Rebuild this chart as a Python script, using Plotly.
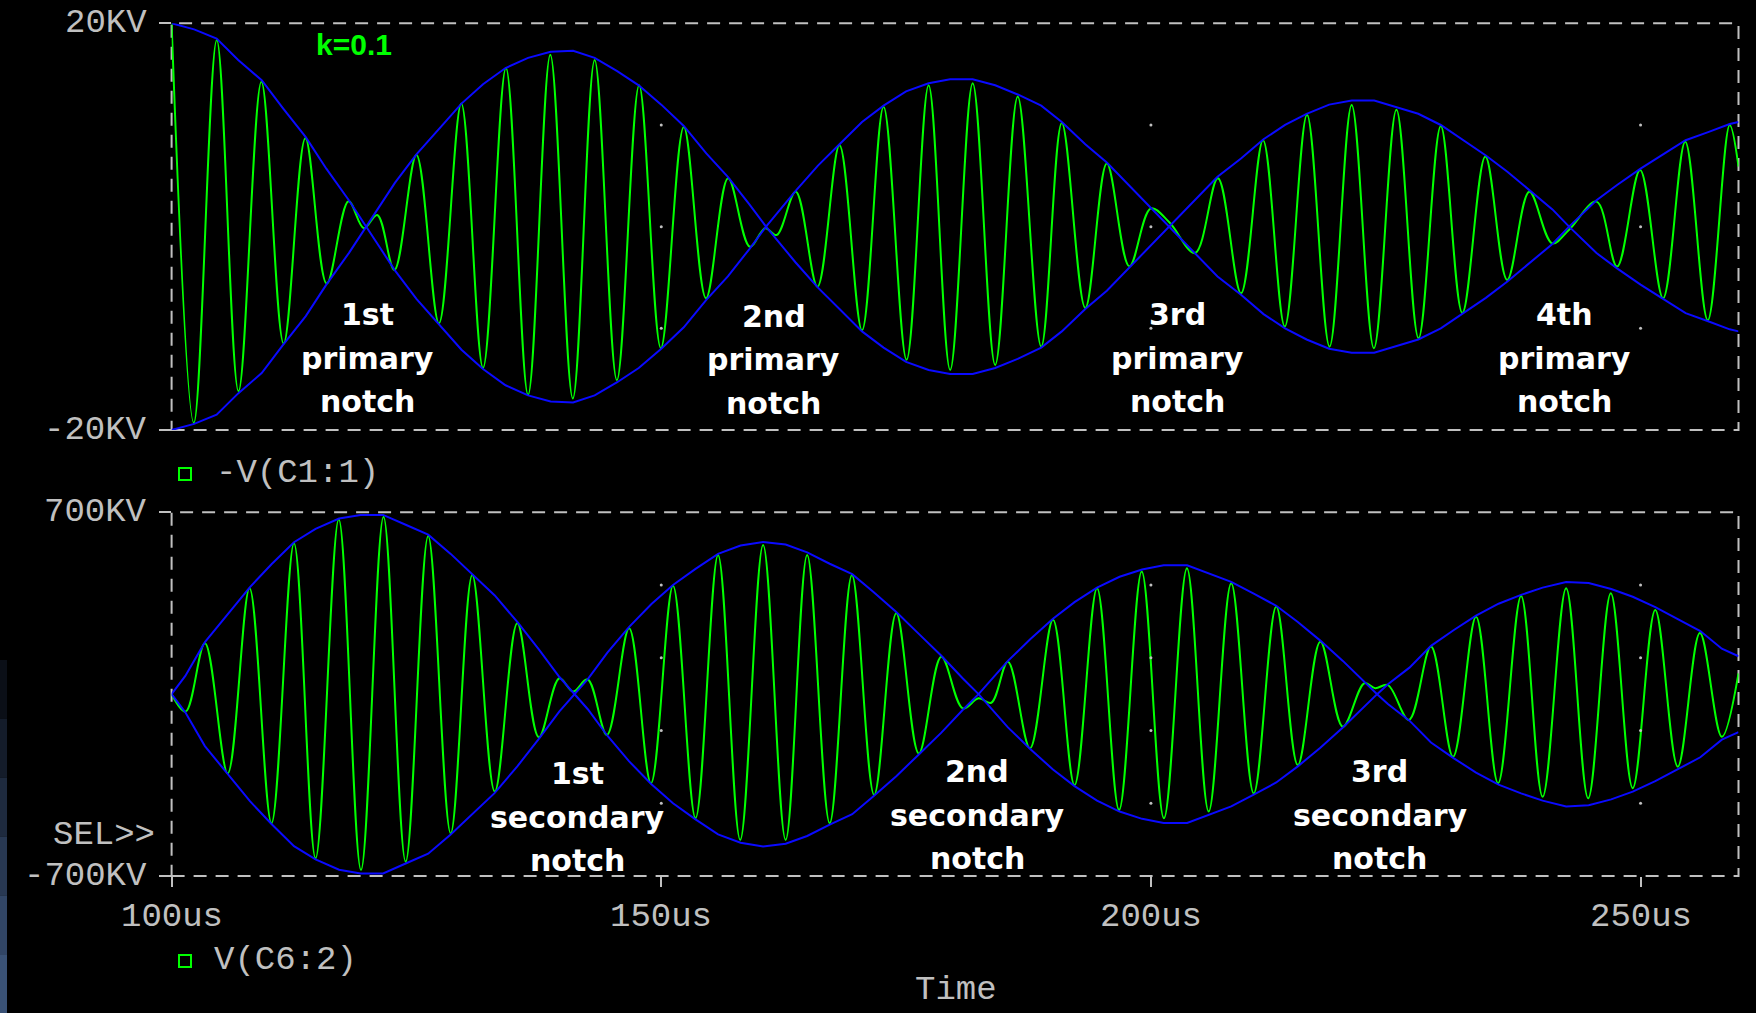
import plotly.graph_objects as go

# ---------------- data ----------------
# top panel: -V(C1:1) [kV], extrema of the green waveform
top_t = [100.0, 102.27, 104.61, 106.83, 109.17, 111.44, 113.66, 115.84, 118.07, 119.63,
         121.0, 122.75, 125.0, 127.3, 129.58, 131.8, 134.14, 136.4, 138.67, 140.97,
         143.2, 145.47, 147.74, 149.96, 152.3, 154.57, 156.83, 159.05, 160.6, 161.78,
         163.73, 165.95, 168.2, 170.5, 172.7, 175.05, 177.3, 179.5, 181.8, 184.1,
         186.4, 188.8, 190.9, 193.3, 195.5, 197.8, 200.0, 201.9, 204.5, 206.84,
         209.2, 211.45, 213.67, 215.94, 218.24, 220.5, 222.77, 225.07, 227.33, 229.6,
         231.8, 234.15, 236.38, 238.64, 240.98, 242.7, 245.5, 247.6, 249.95, 252.3,
         254.56, 256.86, 259.1, 260.0]
top_v = [20.0, -19.3, 18.35, -16.2, 14.25, -11.5, 8.7, -5.6, 2.5, -0.15,
         1.15, -4.26, 7.05, -9.5, 12.1, -13.9, 15.6, -16.55, 16.9, -16.9,
         16.4, -15.1, 13.9, -11.96, 9.8, -7.04, 4.76, -1.97, -0.16, -0.82,
         3.44, -5.9, 8.0, -10.2, 11.8, -13.1, 13.9, -14.1, 14.1, -13.6,
         12.8, -11.8, 10.2, -8.0, 6.2, -3.9, 1.8, 0.4, -2.6, 4.76,
         -6.55, 8.5, -9.83, 11.0, -11.8, 11.97, -11.96, 11.5, -10.97, 9.9,
         -8.5, 6.9, -5.24, 3.44, -1.64, -0.3, 2.46, -3.93, 5.58, -7.04,
         8.36, -9.2, 10.0, 5.9]

# top panel envelope (blue), one branch; the other branch is its mirror
env_top_t = [100.0, 102.3, 104.6, 106.8, 109.2, 111.4, 113.7, 115.8, 118.1, 119.9,
             122.8, 125.0, 127.3, 129.6, 131.8, 134.1, 136.4, 138.7, 141.0, 143.2,
             145.5, 147.7, 150.0, 152.3, 154.6, 156.8, 159.0, 160.7,
             163.7, 166.0, 168.2, 170.5, 172.7, 175.0, 177.3, 179.5, 181.8, 184.1,
             186.4, 188.8, 190.9, 193.3, 195.5, 197.8, 200.0, 201.9,
             204.5, 206.8, 209.2, 211.5, 213.7, 215.9, 218.2, 220.5, 222.8, 225.1,
             227.3, 229.6, 231.8, 234.2, 236.4, 238.6, 241.0, 242.7,
             245.5, 247.6, 250.0, 252.3, 254.6, 256.9, 259.1, 260.0]
env_top_v = [20.0, 19.4, 18.5, 16.4, 14.4, 11.6, 8.8, 5.7, 2.6, 0.0,
             -4.3, -7.1, -9.6, -12.1, -14.0, -15.6, -16.6, -17.2, -17.3, -16.6,
             -15.3, -13.9, -12.0, -9.9, -7.2, -4.9, -2.2, 0.0,
             3.5, 6.0, 8.1, 10.3, 11.9, 13.3, 14.1, 14.5, 14.5, 13.9,
             13.0, 11.9, 10.3, 8.1, 6.3, 4.0, 1.8, 0.0,
             -2.7, -4.9, -6.7, -8.6, -10.0, -11.1, -12.0, -12.4, -12.4, -11.7,
             -11.1, -10.0, -8.6, -7.0, -5.4, -3.6, -1.7, 0.0,
             2.6, 4.1, 5.7, 7.1, 8.5, 9.3, 10.1, 10.3]

# bottom panel: V(C6:2) [kV], extrema of the green waveform
bot_t = [100.0, 101.43, 103.4, 105.73, 107.96, 110.2, 112.5, 114.7, 117.07, 119.34,
         121.64, 123.9, 126.2, 128.5, 130.7, 133.0, 135.3, 137.5, 139.6, 141.0,
         142.47, 144.45, 146.72, 148.95, 151.2, 153.5, 155.8, 158.06, 160.4, 162.7,
         164.9, 167.2, 169.47, 171.74, 174.0, 176.3, 178.6, 180.8, 182.4, 183.7,
         185.4, 187.65, 190.0, 192.2, 194.5, 196.75, 199.06, 201.33, 203.68, 205.9,
         208.2, 210.5, 212.8, 215.0, 217.3, 219.6, 221.8, 222.9, 224.2, 226.35,
         228.6, 230.85, 233.2, 235.45, 237.8, 240.0, 242.4, 244.65, 246.96, 249.2,
         251.5, 253.8, 256.06, 258.3, 260.0]
bot_v = [0, -67, 196, -305, 408, -497, 581, -632, 673, -677,
         683, -645, 609, -536, 459, -375, 273, -166, 61, 10,
         57, -157, 254, -343, 417, -478, 536, -561, 574, -561,
         536, -497, 459, -388, 311, -228, 144, -55, -16, -33,
         125, -208, 286, -350, 408, -446, 472, -478, 485, -452,
         427, -382, 337, -273, 202, -125, 42, 23, 35, -99,
         183, -241, 298, -343, 378, -395, 408, -401, 388, -362,
         324, -279, 235, -164, 80]

# bottom panel envelope (blue), one branch
env_bot_t = [100.0, 101.4, 103.4, 105.7, 108.0, 110.2, 112.5, 114.7, 117.1, 119.3,
             121.6, 123.9, 126.2, 128.5, 130.7, 133.0, 135.3, 137.5, 139.6, 141.1,
             142.5, 144.5, 146.7, 149.0, 151.2, 153.5, 155.8, 158.1, 160.4, 162.7,
             164.9, 167.2, 169.5, 171.7, 174.0, 176.3, 178.6, 180.8, 182.4,
             185.4, 187.7, 190.0, 192.2, 194.5, 196.8, 199.1, 201.3, 203.7, 205.9,
             208.2, 210.5, 212.8, 215.0, 217.3, 219.6, 221.8, 223.1,
             224.2, 226.4, 228.6, 230.9, 233.2, 235.5, 237.8, 240.0, 242.4, 244.7,
             247.0, 249.2, 251.5, 253.8, 256.1, 258.3, 260.0]
env_bot_v = [0, 70, 200, 308, 412, 500, 585, 636, 676, 690,
             690, 652, 614, 540, 463, 380, 278, 172, 66, 0,
             -58, -160, -258, -347, -420, -482, -540, -572, -586, -576,
             -546, -502, -462, -392, -316, -232, -148, -60, 0,
             128, 212, 290, 354, 410, 452, 480, 496, 496, 465,
             432, 387, 340, 278, 206, 128, 46, 0,
             -38, -102, -186, -246, -302, -348, -382, -410, -432, -428,
             -405, -375, -335, -290, -243, -175, -146]

# axis / tick data
x_range = [100, 260]
x_ticks = [100, 150, 200, 250]
x_tick_text = ["100us", "150us", "200us", "250us"]
top_range = [-20, 20]
top_ticks = [20, -20]
top_tick_text = ["20KV", "-20KV"]
bot_range = [-700, 700]
bot_ticks = [700, -700]
bot_tick_text = ["700KV", "-700KV"]
grid_x = [150, 200, 250]
top_grid_y = [-10, 0, 10]
bot_grid_y = [-420, -140, 140, 420]

top_trace_name = "-V(C1:1)"
bot_trace_name = "V(C6:2)"
k_label = "k=0.1"
primary_labels = [["1st", "primary", "notch"], ["2nd", "primary", "notch"],
                  ["3rd", "primary", "notch"], ["4th", "primary", "notch"]]
secondary_labels = [["1st", "secondary", "notch"], ["2nd", "secondary", "notch"],
                    ["3rd", "secondary", "notch"]]

# ---------------- styling / layout constants (pixels) ----------------
W, H = 1756, 1013
PX_L, PX_R = 171.6, 1738.5
TOP_Y0, TOP_Y1 = 23.3, 430.0
BOT_Y0, BOT_Y1 = 512.3, 876.0
GREEN = "#00ff00"
BLUE = "#0a0aff"
GRAY = "#c0c0c0"
MONO = "Liberation Mono"
MONO_SIZE = 34


def fx(px):
    return px / W


def fy(py):
    return 1 - py / H


fig = go.Figure()

# green waveforms
fig.add_trace(go.Scatter(x=top_t, y=top_v, mode="lines", line=dict(color=GREEN, width=2, shape="spline", smoothing=1.0),
                         xaxis="x", yaxis="y", hoverinfo="skip"))
fig.add_trace(go.Scatter(x=bot_t, y=bot_v, mode="lines", line=dict(color=GREEN, width=2, shape="spline", smoothing=1.0),
                         xaxis="x2", yaxis="y2", hoverinfo="skip"))

# blue envelopes (both branches)
for sign in (1, -1):
    fig.add_trace(go.Scatter(x=env_top_t, y=[sign * v for v in env_top_v], mode="lines",
                             line=dict(color=BLUE, width=2), xaxis="x", yaxis="y", hoverinfo="skip"))
    fig.add_trace(go.Scatter(x=env_bot_t, y=[sign * v for v in env_bot_v], mode="lines",
                             line=dict(color=BLUE, width=2), xaxis="x2", yaxis="y2", hoverinfo="skip"))

# grid dots
fig.add_trace(go.Scatter(x=[gx for gx in grid_x for _ in top_grid_y], y=[gy for _ in grid_x for gy in top_grid_y],
                         mode="markers", marker=dict(color=GRAY, size=3), xaxis="x", yaxis="y", hoverinfo="skip"))
fig.add_trace(go.Scatter(x=[gx for gx in grid_x for _ in bot_grid_y], y=[gy for _ in grid_x for gy in bot_grid_y],
                         mode="markers", marker=dict(color=GRAY, size=3), xaxis="x2", yaxis="y2", hoverinfo="skip"))

axis_common = dict(showgrid=False, zeroline=False, showline=False, fixedrange=True)

fig.update_layout(
    width=W, height=H,
    margin=dict(l=0, r=0, t=0, b=0, pad=0),
    paper_bgcolor="black", plot_bgcolor="black",
    showlegend=False,
    xaxis=dict(domain=[fx(PX_L), fx(PX_R)], range=x_range, anchor="y", showticklabels=False, ticks="", **axis_common),
    yaxis=dict(domain=[fy(TOP_Y1), fy(TOP_Y0)], range=top_range, anchor="x", tickvals=top_ticks, showticklabels=False,
               ticks="outside", ticklen=12, tickwidth=2, tickcolor=GRAY, **axis_common),
    xaxis2=dict(domain=[fx(PX_L), fx(PX_R)], range=x_range, anchor="y2", tickvals=x_ticks, showticklabels=False,
                ticks="outside", ticklen=10, tickwidth=2, tickcolor=GRAY, **axis_common),
    yaxis2=dict(domain=[fy(BOT_Y1), fy(BOT_Y0)], range=bot_range, anchor="x2", tickvals=bot_ticks, showticklabels=False,
                ticks="outside", ticklen=12, tickwidth=2, tickcolor=GRAY, **axis_common),
)

shapes = []
# dashed frames
for (y0, y1) in ((TOP_Y0, TOP_Y1), (BOT_Y0, BOT_Y1)):
    shapes.append(dict(type="rect", xref="paper", yref="paper", x0=fx(PX_L), x1=fx(PX_R), y0=fy(y1), y1=fy(y0),
                       line=dict(color=GRAY, width=2, dash="13px,9px"), fillcolor="rgba(0,0,0,0)", layer="below"))
# legend squares
for cy in (474, 961):
    shapes.append(dict(type="rect", xref="paper", yref="paper", x0=fx(179), x1=fx(191), y0=fy(cy + 6), y1=fy(cy - 6),
                       line=dict(color=GREEN, width=2), fillcolor="rgba(0,0,0,0)"))
# blue-gray strip on the left edge of the screenshot
strip_cols = ["#0b0f17", "#141c2a", "#1e2a3e", "#283852", "#314565", "#3a5276"]
seg_h = (1013 - 660) / len(strip_cols)
for i, c in enumerate(strip_cols):
    shapes.append(dict(type="rect", xref="paper", yref="paper", x0=0, x1=fx(7),
                       y0=fy(660 + (i + 1) * seg_h), y1=fy(660 + i * seg_h), line=dict(width=0), fillcolor=c))
fig.update_layout(shapes=shapes)

ann = []
mono_font = dict(family=MONO, size=MONO_SIZE, color=GRAY)
# y tick labels
for txt, py in zip(top_tick_text, (TOP_Y0, TOP_Y1)):
    ann.append(dict(text=txt, x=fx(149), y=fy(py), xref="paper", yref="paper", xanchor="right", yanchor="middle",
                    showarrow=False, font=mono_font))
for txt, py in zip(bot_tick_text, (BOT_Y0, BOT_Y1)):
    ann.append(dict(text=txt, x=fx(149), y=fy(py), xref="paper", yref="paper", xanchor="right", yanchor="middle",
                    showarrow=False, font=mono_font))
# x tick labels (bottom panel)
for tv, txt in zip(x_ticks, x_tick_text):
    ann.append(dict(text=txt, x=tv, y=fy(917), xref="x2", yref="paper", xanchor="center", yanchor="middle",
                    showarrow=False, font=mono_font))
# trace names, SEL>>, Time
ann.append(dict(text=top_trace_name, x=fx(214), y=fy(473), xref="paper", yref="paper", xanchor="left", yanchor="middle",
                showarrow=False, font=mono_font))
ann.append(dict(text=bot_trace_name, x=fx(212), y=fy(960), xref="paper", yref="paper", xanchor="left", yanchor="middle",
                showarrow=False, font=mono_font))
ann.append(dict(text="SEL>>", x=fx(157), y=fy(835), xref="paper", yref="paper", xanchor="right", yanchor="middle",
                showarrow=False, font=mono_font))
ann.append(dict(text="Time", x=fx(956), y=fy(1011), xref="paper", yref="paper", xanchor="center", yanchor="bottom",
                showarrow=False, font=mono_font))
# k label
ann.append(dict(text=k_label, x=fx(354), y=fy(45), xref="paper", yref="paper", xanchor="center", yanchor="middle",
                showarrow=False, font=dict(family="Liberation Sans", size=30, color=GREEN, weight="bold")))

label_font = dict(family="DejaVu Sans", size=30, color="white", weight="bold")
prim_pos = [(367.5, 0), (773.5, 2), (1177, 0), (1564.5, 0)]
for lines, (cx, dy) in zip(primary_labels, prim_pos):
    for j, line in enumerate(lines):
        ann.append(dict(text=line, x=fx(cx), y=fy(314.5 + dy + j * 43.5), xref="paper", yref="paper",
                        xanchor="center", yanchor="middle", showarrow=False, font=label_font))
sec_pos = [(577, 2), (977, 0), (1379.5, 0)]
for lines, (cx, dy) in zip(secondary_labels, sec_pos):
    for j, line in enumerate(lines):
        ann.append(dict(text=line, x=fx(cx), y=fy(771.5 + dy + j * 43.5), xref="paper", yref="paper",
                        xanchor="center", yanchor="middle", showarrow=False, font=label_font))
fig.update_layout(annotations=ann)

fig.write_html("out.html", config={"displayModeBar": False, "staticPlot": True},
               post_script="document.body.style.margin='0';document.body.style.background='black';document.body.style.overflow='hidden';")
